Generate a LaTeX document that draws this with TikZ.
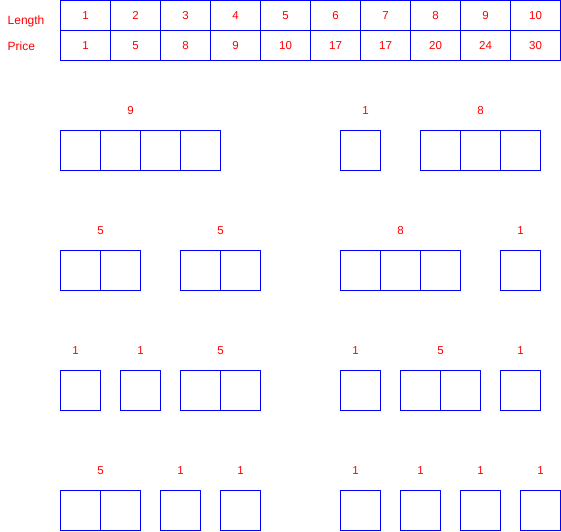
\documentclass[tikz,border=0pt]{standalone}
\usepackage{fontspec}
\setmainfont{Liberation Sans}
\begin{document}
\begin{tikzpicture}[x=1pt,y=-1pt,
  cell/.style={draw=blue, line width=1pt, minimum width=50pt, minimum height=30pt, inner sep=0pt, outer sep=0pt, text=red, font=\fontsize{11.5}{13}\selectfont},
  unitbox/.style={draw=blue, line width=1pt, minimum size=40pt, inner sep=0pt, outer sep=0pt},
  lbl/.style={text=red, font=\fontsize{11.5}{13}\selectfont, inner sep=0pt},
  hdr/.style={text=red, font=\fontsize{12}{14}\selectfont, inner sep=0pt, anchor=west}]
\useasboundingbox (0,0) rectangle (561,531);
\begin{scope}[shift={(0.5,0.5)}]
% table
\node[hdr] (hlen) at (7,21) {Length};
\node[hdr] (hpri) at (7,46) {Price};
\foreach \l/\p [count=\i from 0] in {1/1,2/5,3/8,4/9,5/10,6/17,7/17,8/20,9/24,10/30}{
  \node[cell] (len\i) at ({85+50*\i},15) {\l};
  \node[cell] (pri\i) at ({85+50*\i},45) {\p};
}
% row 1
\foreach \x [count=\i] in {60,100,140,180,340,420,460,500}
  \node[unitbox] (ra\i) at ({\x+20},150) {};
\foreach \x/\t [count=\i] in {130/9,365/1,480/8}
  \node[lbl] (la\i) at (\x,110) {\t};
% row 2
\foreach \x [count=\i] in {60,100,180,220,340,380,420,500}
  \node[unitbox] (rb\i) at ({\x+20},270) {};
\foreach \x/\t [count=\i] in {100/5,220/5,400/8,520/1}
  \node[lbl] (lb\i) at (\x,230) {\t};
% row 3
\foreach \x [count=\i] in {60,120,180,220,340,400,440,500}
  \node[unitbox] (rc\i) at ({\x+20},390) {};
\foreach \x/\t [count=\i] in {75/1,140/1,220/5,355/1,440/5,520/1}
  \node[lbl] (lc\i) at (\x,350) {\t};
% row 4
\foreach \x [count=\i] in {60,100,160,220,340,400,460,520}
  \node[unitbox] (rd\i) at ({\x+20},510) {};
\foreach \x/\t [count=\i] in {100/5,180/1,240/1,355/1,420/1,480/1,540/1}
  \node[lbl] (ld\i) at (\x,470) {\t};
\end{scope}
\end{tikzpicture}
\end{document}
